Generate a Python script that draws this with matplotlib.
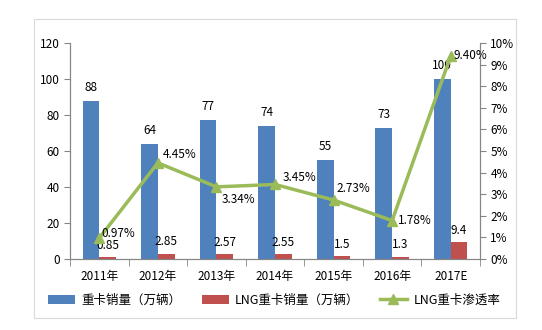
import numpy as np
import matplotlib.pyplot as plt
from matplotlib.patches import Rectangle

plt.rcParams['font.family'] = ['Noto Sans CJK SC', 'DejaVu Sans']
plt.rcParams['font.size'] = 8.5

# data
years = ['2011年', '2012年', '2013年', '2014年', '2015年', '2016年', '2017E']
truck_sales = [88, 64, 77, 74, 55, 73, 100]
lng_sales = [0.85, 2.85, 2.57, 2.55, 1.5, 1.3, 9.4]
lng_rate = [0.97, 4.45, 3.34, 3.45, 2.73, 1.78, 9.40]
rate_labels = ['0.97%', '4.45%', '3.34%', '3.45%', '2.73%', '1.78%', '9.40%']
# label offsets (points) for the rate labels
rate_offsets = [(14, 3), (16, 6), (16, -9), (18, 5), (14, 8), (16, 0), (14, 0)]

blue = '#4F81BD'
red = '#C0504D'
green = '#9BBB59'
gray = '#868686'

fig = plt.figure(figsize=(5.42, 3.30), dpi=100)
fig.patches.append(Rectangle((34 / 542, 1 - 318 / 330), 482 / 542, 299 / 330,
                             transform=fig.transFigure, fill=False,
                             edgecolor='#D9D9D9', linewidth=0.8))
ax = fig.add_axes([70 / 542, 1 - 259 / 330, 410 / 542, 216 / 330])

x = np.arange(len(years))
w = 0.2857
b1 = ax.bar(x - w / 2, truck_sales, w, color=blue, label='重卡销量（万辆）')
b2 = ax.bar(x + w / 2, lng_sales, w, color=red, label='LNG重卡销量（万辆）')

for xi, v in zip(x, truck_sales):
    ax.annotate(str(v), (xi - w / 2, v), xytext=(0, 5), textcoords='offset points',
                ha='center', va='bottom')
for xi, v in zip(x, lng_sales):
    ax.annotate(f'{v:g}', (xi + w / 2, v), xytext=(0, 4), textcoords='offset points',
                ha='center', va='bottom')

ax.set_xlim(-0.5, len(years) - 0.5)
ax.set_ylim(0, 120)
ax.set_yticks(range(0, 121, 20))
ax.set_xticks(x)
ax.set_xticklabels(years)
ax.set_xticks(np.arange(-0.5, len(years), 1), minor=True)
ax.tick_params(axis='x', which='major', length=0, pad=8)
ax.tick_params(axis='x', which='minor', length=5, color=gray, direction='out')
ax.tick_params(axis='y', length=4, color=gray)

ax2 = ax.twinx()
ax2.plot(x, lng_rate, color=green, linewidth=2.5, marker='^', markersize=7,
         label='LNG重卡渗透率')
for xi, v, t, off in zip(x, lng_rate, rate_labels, rate_offsets):
    ax2.annotate(t, (xi, v), xytext=off, textcoords='offset points',
                 ha='center', va='center')
ax2.set_ylim(0, 10)
ax2.set_yticks(range(0, 11))
ax2.set_yticklabels([f'{i}%' for i in range(0, 11)])
ax2.tick_params(axis='y', length=4, color=gray)

for a in (ax, ax2):
    a.spines['top'].set_visible(False)
    for s in ('left', 'right', 'bottom'):
        a.spines[s].set_color(gray)

h1, l1 = ax.get_legend_handles_labels()
h2, l2 = ax2.get_legend_handles_labels()
fig.legend(h1 + h2, l1 + l2, loc='center', bbox_to_anchor=(274 / 542, 1 - 300 / 330),
           ncol=3, frameon=False, fontsize=9, handlelength=2.2, columnspacing=1.6,
           handletextpad=0.5)

fig.savefig('out.png', dpi=100)
